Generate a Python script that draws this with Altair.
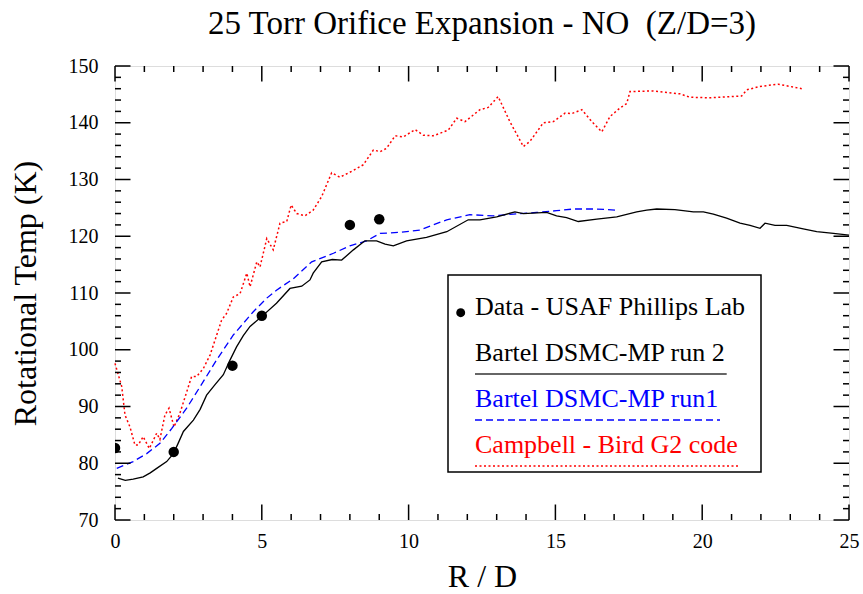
import altair as alt
import pandas as pd

# ---------------- data ----------------
data_x = [0, 2, 4, 5, 8, 9]
data_y = [82.7, 82.0, 97.2, 106.0, 122.0, 123.0]

run2_x = [0.1, 0.35, 0.62, 0.96, 1.2, 1.42, 1.76, 1.99, 2.15, 2.33, 2.67, 2.9, 3.12, 3.4, 3.69, 3.9,
          4.14, 4.37, 4.6, 5.05, 5.5, 5.96, 6.36, 6.64, 6.75, 7.04, 7.4, 7.72, 8.12, 8.51, 8.91, 9.2,
          9.48, 9.93, 10.61, 11.3, 12.03, 12.43, 13.0, 13.62, 13.91, 14.7, 15.04, 15.38, 15.78, 16.41,
          17.09, 17.77, 18.11, 18.45, 19.07, 19.7, 20.04, 20.38, 20.83, 21.29, 21.63, 21.97, 22.14,
          22.48, 22.88, 23.44, 23.9, 24.47, 25.0]
run2_y = [77.4, 77.0, 77.2, 77.6, 78.3, 79.1, 80.3, 81.7, 83.5, 85.6, 87.6, 89.5, 92.0, 93.8, 95.6, 98.0,
          100.5, 102.5, 104.1, 106.1, 108.2, 110.8, 111.2, 112.3, 113.5, 115.5, 115.9, 115.8, 117.6, 119.2,
          119.2, 118.6, 118.3, 119.2, 119.8, 120.8, 122.9, 122.9, 123.4, 124.3, 124.0, 124.2, 123.6, 123.3,
          122.6, 123.0, 123.4, 124.3, 124.6, 124.8, 124.7, 124.3, 124.3, 123.9, 123.2, 122.3, 121.9, 121.4,
          122.3, 121.9, 121.9, 121.3, 120.8, 120.5, 120.2]

run1_x = [0.06, 0.62, 1.08, 1.53, 1.93, 2.44, 2.9, 3.46, 4.03, 4.71, 5.17, 5.5, 6.07, 6.7, 7.44, 8.0,
          8.57, 9.03, 9.71, 10.39, 10.84, 11.3, 12.09, 12.88, 13.57, 14.36, 15.04, 15.61, 16.41, 17.03]
run1_y = [79.1, 80.3, 81.7, 83.5, 86.1, 89.7, 93.5, 98.2, 102.6, 106.7, 109.1, 110.5, 112.5, 115.5, 117.0,
          118.3, 119.2, 120.5, 120.7, 121.1, 122.0, 122.9, 123.8, 123.6, 123.9, 124.2, 124.5, 124.8, 124.8, 124.6]

g2_x = [0.0, 0.23, 0.34, 0.51, 0.68, 0.79, 0.96, 1.17, 1.42, 1.53, 1.7, 1.84, 2.01, 2.21, 2.61, 2.78,
        3.01, 3.24, 3.63, 3.8, 4.03, 4.26, 4.49, 4.6, 4.83, 4.94, 5.17, 5.39, 5.62, 5.85, 6.0, 6.19,
        6.47, 6.75, 7.04, 7.38, 7.66, 8.12, 8.46, 8.8, 9.03, 9.25, 9.54, 9.82, 10.22, 10.5, 10.84,
        11.35, 11.64, 11.92, 12.43, 12.71, 13.05, 13.45, 13.91, 14.13, 14.59, 14.93, 15.33, 15.55,
        15.9, 16.24, 16.58, 16.86, 17.2, 17.43, 17.54, 18.33, 19.24, 19.58, 20.27, 21.34, 21.52,
        21.97, 22.59, 22.99, 23.39]
g2_y = [97.6, 93.5, 88.5, 86.4, 83.2, 83.2, 84.7, 82.6, 85.3, 84.2, 88.5, 89.7, 86.4, 88.8, 95.3, 95.3,
        96.7, 99.1, 105.2, 106.4, 109.3, 109.9, 113.5, 111.1, 115.5, 114.6, 119.6, 117.6, 122.3, 122.6,
        125.5, 124.0, 123.6, 124.6, 127.0, 131.2, 130.4, 131.6, 132.6, 135.2, 134.9, 135.5, 137.7, 137.5,
        138.8, 137.8, 137.7, 138.7, 140.8, 140.2, 142.3, 142.7, 144.6, 140.2, 135.8, 136.7, 140.0, 140.2,
        141.7, 141.6, 142.3, 140.2, 138.4, 141.1, 142.6, 143.4, 145.5, 145.6, 145.1, 144.5, 144.4, 144.7,
        145.8, 146.4, 146.8, 146.4, 146.0]

x_labels = [0, 5, 10, 15, 20, 25]
y_labels = [70, 80, 90, 100, 110, 120, 130, 140, 150]
x_minor = [v for v in range(0, 26) if v % 5 != 0]
y_minor = [v for v in range(70, 151, 2) if v % 10 != 0]

title_text = "25 Torr Orifice Expansion - NO \u00a0(Z/D=3)"
legend_labels = ["Data - USAF Phillips Lab", "Bartel DSMC-MP run 2",
                 "Bartel DSMC-MP run1", "Campbell - Bird G2 code"]

# ---------------- layout ----------------
W, H = 734, 454
FONT = "Liberation Serif"
MAJ, MIN = 15.5, 6

xs = alt.Scale(domain=[0, 25], nice=False, zero=False)
ys = alt.Scale(domain=[70, 150], nice=False, zero=False)

xaxis = alt.Axis(values=x_labels, title="R / D", grid=False, ticks=False, tickSize=0, domain=False,
                 labelFont=FONT, labelFontSize=20, labelColor="black", labelBaseline="alphabetic",
                 labelPadding=27, labelFlush=False, labelOverlap=False,
                 titleFont=FONT, titleFontSize=32, titleFontWeight="normal", titleColor="black",
                 titleX=W / 2, titleY=66, titleBaseline="alphabetic", titleAlign="center")
yaxis = alt.Axis(values=y_labels, title="Rotational Temp (K)", grid=False, ticks=False, tickSize=0,
                 domain=False, labelFont=FONT, labelFontSize=20, labelColor="black", labelPadding=17,
                 labelFlush=False, labelOverlap=False,
                 titleFont=FONT, titleFontSize=32, titleFontWeight="normal", titleColor="black",
                 titleX=-80, titleY=H / 2, titleAngle=-90, titleBaseline="alphabetic", titleAlign="center")

X = alt.X("x:Q", scale=xs, axis=xaxis)
Y = alt.Y("y:Q", scale=ys, axis=yaxis)

df_data = pd.DataFrame({"x": data_x, "y": data_y})
df_run2 = pd.DataFrame({"x": run2_x, "y": run2_y})
df_run1 = pd.DataFrame({"x": run1_x, "y": run1_y})
df_g2 = pd.DataFrame({"x": g2_x, "y": g2_y})

red_line = alt.Chart(df_g2).mark_line(color="#ff0000", strokeWidth=1.5, strokeDash=[2, 2.5]).encode(
    x=X, y=Y, order="x:Q")
blue_line = alt.Chart(df_run1).mark_line(color="#0000ff", strokeWidth=1.3, strokeDash=[7, 4]).encode(
    x=X, y=Y, order="x:Q")
black_line = alt.Chart(df_run2).mark_line(color="black", strokeWidth=1.3).encode(
    x=X, y=Y, order="x:Q")
points = alt.Chart(df_data).mark_circle(color="black", size=110, opacity=1, clip=True).encode(x=X, y=Y)

# ---- inward tick marks on all four sides ----
tk = dict(color="black", strokeWidth=1.5)
dx_maj = pd.DataFrame({"x": x_labels})
dx_min = pd.DataFrame({"x": x_minor})
dy_maj = pd.DataFrame({"y": y_labels})
dy_min = pd.DataFrame({"y": y_minor})
ticks = []
for d, L in ((dx_maj, MAJ), (dx_min, MIN)):
    ticks.append(alt.Chart(d).mark_rule(**tk).encode(x=X, y=alt.value(H), y2=alt.value(H - L)))
    ticks.append(alt.Chart(d).mark_rule(**tk).encode(x=X, y=alt.value(0), y2=alt.value(L)))
for d, L in ((dy_maj, MAJ), (dy_min, MIN)):
    ticks.append(alt.Chart(d).mark_rule(**tk).encode(y=Y, x=alt.value(0), x2=alt.value(L)))
    ticks.append(alt.Chart(d).mark_rule(**tk).encode(y=Y, x=alt.value(W), x2=alt.value(W - L)))

# ---- legend box ----
one = pd.DataFrame({"k": [0]})
bx0, bx1, by0, by1 = 333, 646, 209, 406
tx = 360
leg = [
    alt.Chart(one).mark_rect(fill="white", stroke="black", strokeWidth=1.5).encode(
        x=alt.value(bx0), x2=alt.value(bx1), y=alt.value(by0), y2=alt.value(by1)),
    alt.Chart(one).mark_circle(color="black", size=80, opacity=1).encode(
        x=alt.value(345.7), y=alt.value(246.7)),
]
for lbl, col, yb in zip(legend_labels, ["black", "black", "#0000ff", "#ff0000"], [249, 294.7, 340.7, 386.7]):
    leg.append(alt.Chart(one).mark_text(text=lbl, font=FONT, fontSize=26, color=col, align="left",
                                        baseline="alphabetic").encode(x=alt.value(tx), y=alt.value(yb)))
leg.append(alt.Chart(one).mark_rule(color="#333333", strokeWidth=1.5).encode(
    x=alt.value(tx), x2=alt.value(611.7), y=alt.value(308)))
leg.append(alt.Chart(one).mark_rule(color="#0000ff", strokeWidth=1.3, strokeDash=[7, 4]).encode(
    x=alt.value(tx), x2=alt.value(605), y=alt.value(354)))
leg.append(alt.Chart(one).mark_rule(color="#ff0000", strokeWidth=1.5, strokeDash=[2, 2.5]).encode(
    x=alt.value(tx), x2=alt.value(625), y=alt.value(400)))

chart = alt.layer(red_line, blue_line, black_line, points, *ticks, *leg).properties(
    width=W, height=H,
    title=alt.TitleParams(title_text, font=FONT, fontSize=33,
                          fontWeight="normal", color="black", anchor="middle", offset=15),
    autosize=alt.AutoSizeParams(type="none"),
    padding={"left": 115, "top": 66, "right": 14, "bottom": 74},
).configure_view(stroke="black", strokeWidth=2).configure(background="white")

chart.save("out.html", embed_options={"renderer": "svg", "actions": False})
